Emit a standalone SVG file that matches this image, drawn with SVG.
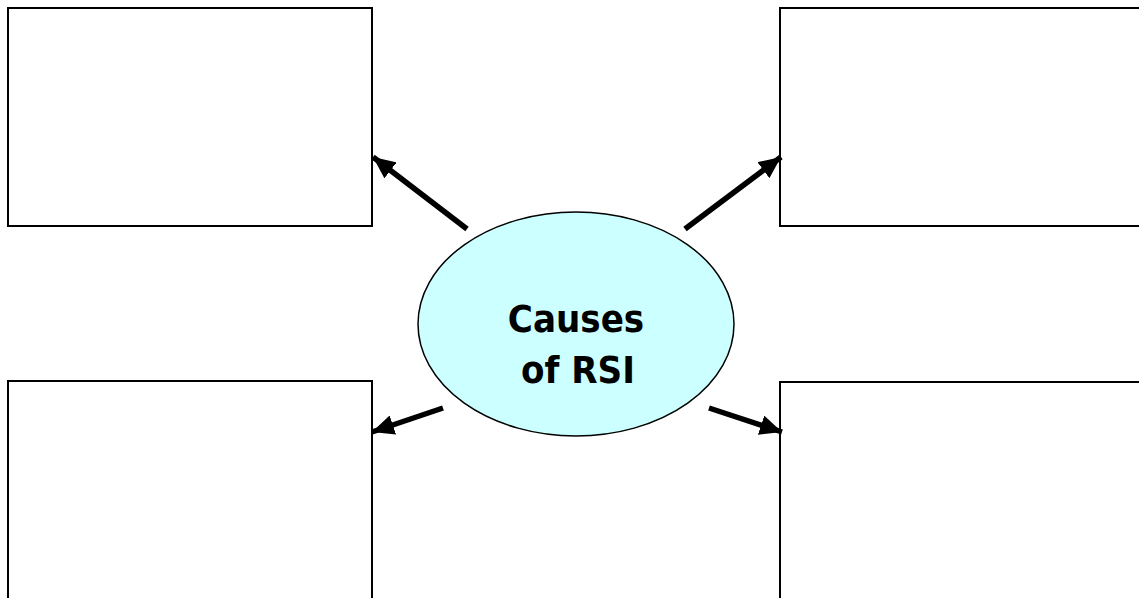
<svg xmlns="http://www.w3.org/2000/svg" width="1139" height="598" viewBox="0 0 1139 598">
<style>
.box{fill:#fff;stroke:#000;stroke-width:2}
.arr{stroke:#000;stroke-width:5.5;fill:none;marker-end:url(#ah)}
.lbl{font-family:"DejaVu Sans Condensed","DejaVu Sans",sans-serif;font-weight:bold;font-size:38px;fill:#000;text-anchor:middle}
</style>
<defs>
<marker id="ah" markerUnits="userSpaceOnUse" markerWidth="22" markerHeight="20" viewBox="0 0 22 20" refX="22" refY="10" orient="auto">
<path d="M0,0 L22,10 L0,20 Z" fill="#000"/>
</marker>
</defs>
<rect width="1139" height="598" fill="#fff"/>
<g id="box-tl"><rect class="box" x="8" y="8" width="364" height="218"/></g>
<g id="box-tr"><rect class="box" x="780" y="8" width="370" height="218"/></g>
<g id="box-bl"><rect class="box" x="8" y="381" width="364" height="230"/></g>
<g id="box-br"><rect class="box" x="780" y="382" width="370" height="230"/></g>
<g id="connectors">
<line class="arr" x1="467" y1="229" x2="373" y2="157"/>
<line class="arr" x1="685" y1="229" x2="781" y2="157"/>
<line class="arr" x1="443" y1="408" x2="372" y2="432"/>
<line class="arr" x1="709" y1="408" x2="782" y2="432"/>
</g>
<g id="center">
<ellipse cx="576" cy="324" rx="158" ry="112" fill="#ccffff" stroke="#000" stroke-width="1.5"/>
<text class="lbl" x="576" y="332">Causes</text>
<text class="lbl" x="578" y="383">of RSI</text>
</g>
</svg>
